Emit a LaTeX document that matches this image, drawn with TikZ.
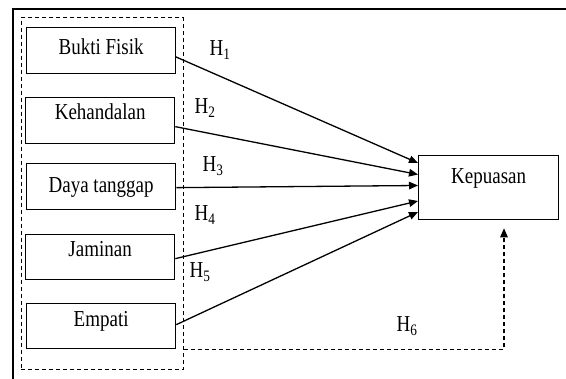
\documentclass[tikz,border=0pt]{standalone}
\usepackage{fontspec}
\setmainfont{Liberation Serif}
\usetikzlibrary{arrows.meta,calc}
\newcommand{\vst}[1]{\scalebox{1}[1.2]{#1}}
\begin{document}
\begin{tikzpicture}[x=1pt,y=-1pt,
  box/.style={draw, line width=1.3pt, minimum width=149pt, minimum height=46pt, inner sep=0pt, anchor=north west, font=\fontsize{19}{22}\selectfont},
  hlab/.style={font=\fontsize{19}{22}\selectfont, inner sep=0pt},
  arr/.style={line width=1.3pt, -{Triangle[length=9pt,width=7.5pt]}},
  dsh/.style={line width=1.2pt, dash pattern=on 4pt off 3pt}]
\useasboundingbox (0,0) rectangle (566,379);
\draw[line width=1.3pt] (13,379) -- (13,9) -- (566,9);
\node[dsh, draw, minimum width=162pt, minimum height=352pt, inner sep=0pt, anchor=north west] (grp) at (20.7,17) {};
\node[box, text height=27pt, text depth=19pt] (b1) at (26,27) {\vst{Bukti Fisik}};
\node[box, text height=22pt, text depth=24pt] (b2) at (25,97) {\vst{Kehandalan}};
\node[box, text height=29pt, text depth=17pt] (b3) at (26,163) {\vst{Daya tanggap}};
\node[box, text height=22pt, text depth=23pt, minimum height=45pt] (b4) at (25,234) {\vst{Jaminan}};
\node[box, text height=23pt, text depth=22pt, minimum height=45pt] (b5) at (26,303) {\vst{Empati}};
\node[box, minimum width=140pt, minimum height=64pt, text height=28pt, text depth=36pt] (k) at (418,155) {\vst{Kepuasan}};
\draw[arr] ($(b1.east)+(-1,6)$) -- ($(k.north west)+(0,8)$);
\draw[arr] ($(b2.east)+(0,6)$) -- ($(k.north west)+(0,19.5)$);
\draw[arr] ($(b3.east)+(0,1)$) -- ($(k.north west)+(0,30.5)$);
\draw[arr] ($(b4.east)+(0,1.5)$) -- ($(k.north west)+(0,46)$);
\draw[arr] ($(b5.east)+(0,-1.5)$) -- ($(k.north west)+(0,57)$);
\coordinate (d0) at ($(grp.south east)+(0,-21)$);
\coordinate (d1) at ($(k.south west)+(86,8)$);
\draw[dsh, -{Triangle[length=9pt,width=7.5pt]}] (d0) -| (d1);
\node[hlab] (h1) at (220,50) {\vst{H\textsubscript{1}}};
\node[hlab] (h2) at (205,108) {\vst{H\textsubscript{2}}};
\node[hlab] (h3) at (213,166) {\vst{H\textsubscript{3}}};
\node[hlab] (h4) at (205,215) {\vst{H\textsubscript{4}}};
\node[hlab] (h5) at (200,272) {\vst{H\textsubscript{5}}};
\node[hlab] (h6) at (407,326) {\vst{H\textsubscript{6}}};
\end{tikzpicture}
\end{document}
